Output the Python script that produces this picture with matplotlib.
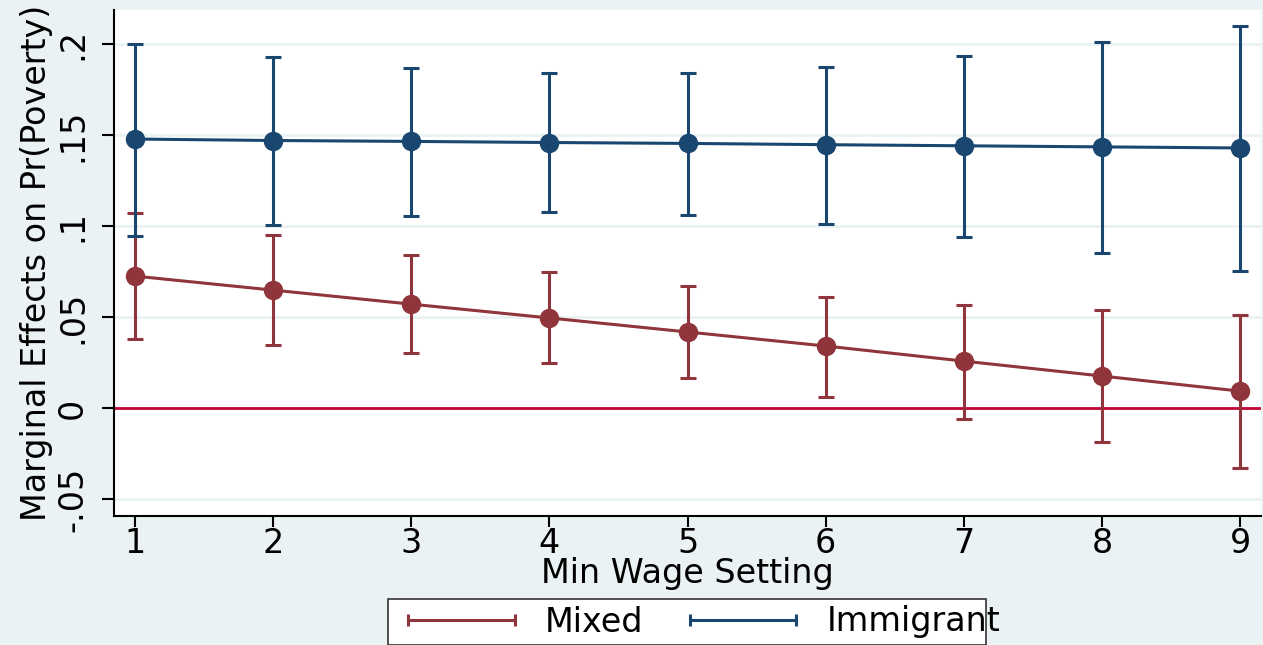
import matplotlib
matplotlib.use("Agg")
import matplotlib.pyplot as plt
from matplotlib.lines import Line2D
from matplotlib.patches import Rectangle
import numpy as np

# marginal effects by minimum wage setting
wage_setting = [1, 2, 3, 4, 5, 6, 7, 8, 9]

immigrant_me = [0.1478, 0.1470, 0.1465, 0.1459, 0.1454, 0.1447, 0.1441, 0.1435, 0.1429]
immigrant_lo = [0.0945, 0.1005, 0.1055, 0.1077, 0.1060, 0.1011, 0.0940, 0.0852, 0.0753]
immigrant_hi = [0.2000, 0.1929, 0.1868, 0.1841, 0.1841, 0.1874, 0.1934, 0.2011, 0.2099]

mixed_me = [0.0725, 0.0648, 0.0571, 0.0495, 0.0418, 0.0341, 0.0258, 0.0176, 0.0093]
mixed_lo = [0.0379, 0.0346, 0.0302, 0.0247, 0.0165, 0.0060, -0.0060, -0.0187, -0.0330]
mixed_hi = [0.1071, 0.0951, 0.0841, 0.0747, 0.0670, 0.0610, 0.0566, 0.0538, 0.0511]

y_ticks = [-0.05, 0, 0.05, 0.1, 0.15, 0.2]
y_tick_labels = ["-.05", "0", ".05", ".1", ".15", ".2"]

BG = "#EAF2F3"
NAVY = "#1A476F"
MAROON = "#90353B"
CRIMSON = "#C10534"
W, H = 1263, 645

plt.rcParams["font.family"] = ["DejaVu Sans"]

fig = plt.figure(figsize=(W / 100, H / 100), dpi=100, facecolor=BG)
ax = fig.add_axes([114 / W, 1 - 516 / H, (1261 - 114) / W, (516 - 10) / H])
ax.set_facecolor("white")


def draw_series(x, me, lo, hi, color):
    x = np.asarray(x)
    me = np.asarray(me)
    err = [me - np.asarray(lo), np.asarray(hi) - me]
    ax.errorbar(x, me, yerr=err, fmt="none", ecolor=color, elinewidth=2.2,
                capsize=6, capthick=2.2, zorder=3)
    ax.plot(x, me, color=color, lw=2.2, marker="o", markersize=13, zorder=4)


ax.axhline(0, color=CRIMSON, lw=2.0, zorder=2)
draw_series(wage_setting, mixed_me, mixed_lo, mixed_hi, MAROON)
draw_series(wage_setting, immigrant_me, immigrant_lo, immigrant_hi, NAVY)

ax.set_xlim(0.848, 9.152)
ax.set_ylim(-0.0593, 0.2187)
ax.set_xticks(wage_setting)
ax.set_yticks(y_ticks)
ax.set_yticklabels(y_tick_labels, rotation=90, va="center")
ax.yaxis.grid(True, color=BG, lw=2.0, zorder=0)
ax.set_axisbelow(True)

for side in ("top", "right"):
    ax.spines[side].set_visible(False)
for side in ("left", "bottom"):
    ax.spines[side].set_linewidth(1.5)
ax.tick_params(axis="both", labelsize=24, width=1.5, direction="out")
ax.tick_params(axis="y", length=9, pad=9)
ax.tick_params(axis="x", length=8, pad=0)

ax.set_xlabel("Min Wage Setting", fontsize=24, labelpad=-2)
ax.set_ylabel("Marginal Effects on Pr(Poverty)", fontsize=24, labelpad=2)

# legend box (bottom runs off the figure edge)
fig.add_artist(Rectangle((388 / W, 0), (986 - 388) / W, 1 - 599 / H,
                         transform=fig.transFigure, facecolor="white",
                         edgecolor="#333333", lw=1.2, zorder=1))
handles = [
    Line2D([], [], color=MAROON, lw=2.2, marker="|", markersize=9, markeredgewidth=2.2),
    Line2D([], [], color=NAVY, lw=2.2, marker="|", markersize=9, markeredgewidth=2.2),
]
leg = fig.legend(handles, ["Mixed", "Immigrant"], ncol=2, numpoints=2,
                 loc="center left", bbox_to_anchor=(398 / W, 1 - 622 / H),
                 fontsize=24, frameon=False,
                 handlelength=3.8, handletextpad=0.6, columnspacing=1.1,
                 borderpad=0, borderaxespad=0)
leg.set_zorder(2)

fig.savefig("out.png", dpi=100, facecolor=BG)
